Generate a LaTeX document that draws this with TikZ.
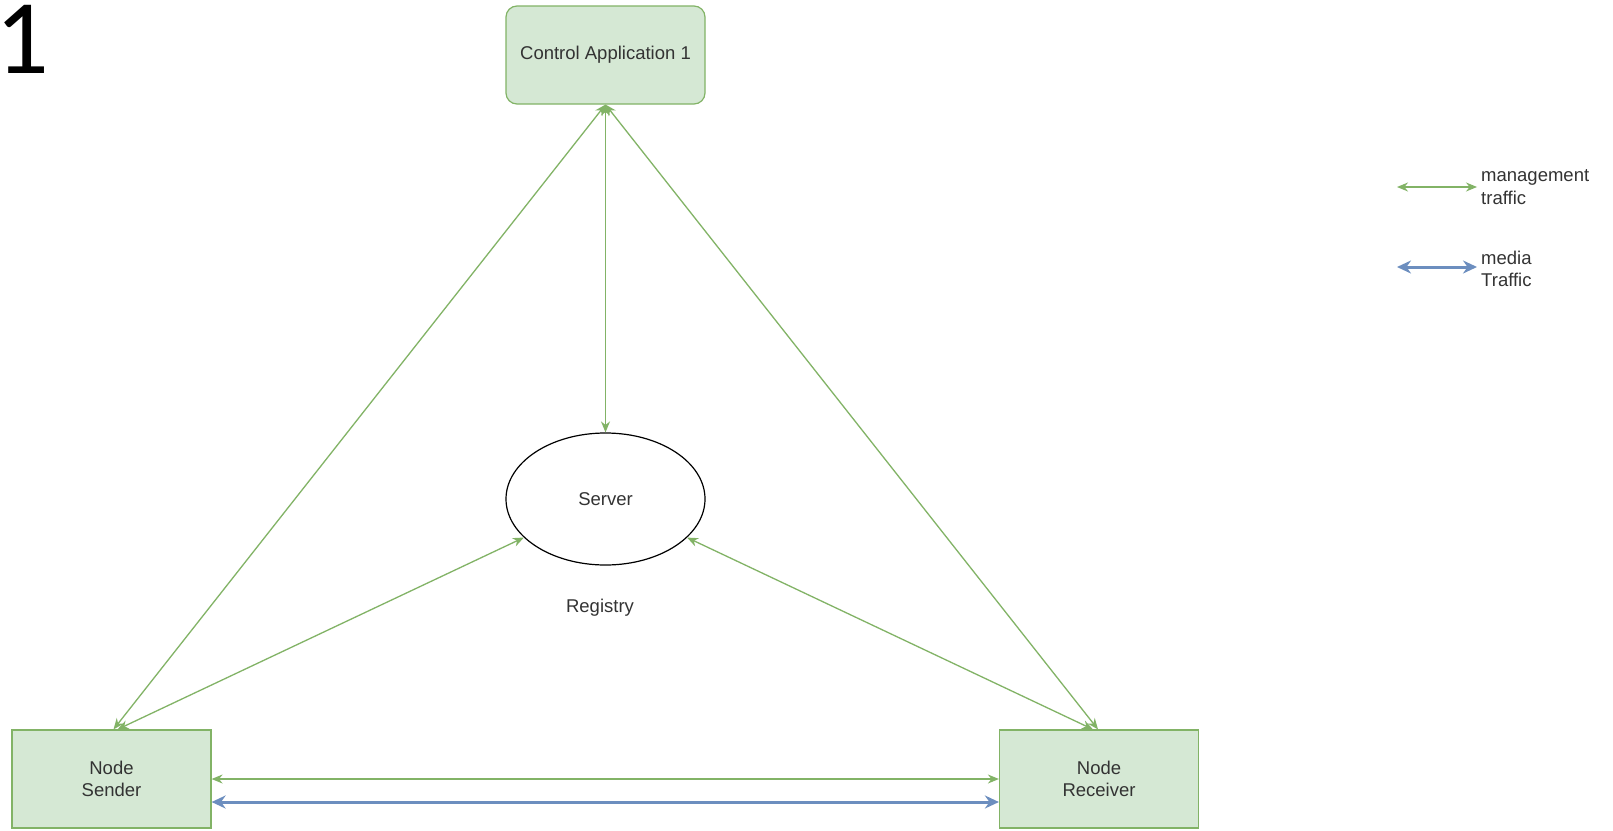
\documentclass[tikz,border=0pt]{standalone}
\usepackage{fontspec}
\setmainfont{Liberation Sans}
\newfontfamily\bigfont{Carlito}
\usetikzlibrary{arrows.meta,shapes.geometric}
\definecolor{gfill}{HTML}{D5E8D4}
\definecolor{gline}{HTML}{82B366}
\definecolor{bline}{HTML}{6C8EBF}
\definecolor{txt}{HTML}{333333}
\tikzset{
  box/.style={draw=gline, fill=gfill, line width=1.2pt, minimum width=199pt, minimum height=98pt, inner sep=0pt, text=txt, align=center, font=\fontsize{18.5}{22.6}\selectfont},
  mgmt/.style={draw=gline, line width=1.3pt, {Stealth[length=11pt,width=9pt]}-{Stealth[length=11pt,width=9pt]}},
  media/.style={draw=bline, line width=3pt, {Stealth[length=14pt,width=13pt]}-{Stealth[length=14pt,width=13pt]}},
  lbl/.style={text=txt, font=\fontsize{18.5}{22.6}\selectfont, inner sep=0pt},
}
\begin{document}
\begin{tikzpicture}[x=1pt,y=-1pt]
\useasboundingbox[fill=white] (0,0) rectangle (1613,830);
\node[font=\bigfont\fontsize{106}{106}\selectfont, inner sep=0pt, anchor=base west] (num) at (0,73) {\kern-5pt 1};
\node[box, rounded corners=11pt] (ctrl) at (605.5,55) {Control Application 1};
\node[draw=black, fill=white, line width=1.2pt, ellipse, minimum width=199pt, minimum height=132pt, inner sep=0pt, lbl] (server) at (605.5,499) {Server};
\node[lbl] (registry) at (600,608) {Registry};
\node[box] (sender) at (111.5,779) {Node\\Sender};
\node[box] (receiver) at (1099,779) {Node\\Receiver};
% connectors
\draw[mgmt] (ctrl.south) -- (server.north);
\draw[mgmt] (ctrl.south) -- ([xshift=2pt]sender.north);
\draw[mgmt] (ctrl.south) -- ([xshift=-1pt]receiver.north);
\draw[mgmt] ([xshift=6pt]sender.north) -- (server);
\draw[mgmt] ([xshift=-6pt]receiver.north) -- (server);
\draw[mgmt] (sender.east) -- (receiver.west);
\draw[media] ([yshift=-23pt]sender.east) -- ([yshift=-23pt]receiver.west);
% legend
\coordinate (l1a) at (1397,187);
\coordinate (l1b) at (1477,187);
\coordinate (l2a) at (1397,267);
\coordinate (l2b) at (1477,267);
\draw[mgmt] (l1a) -- (l1b);
\draw[media] (l2a) -- (l2b);
\node[lbl, anchor=west, align=left] (lg1) at (1481,187) {management\\traffic};
\node[lbl, anchor=west, align=left] (lg2) at (1481,269) {media\\Traffic};
\end{tikzpicture}
\end{document}
